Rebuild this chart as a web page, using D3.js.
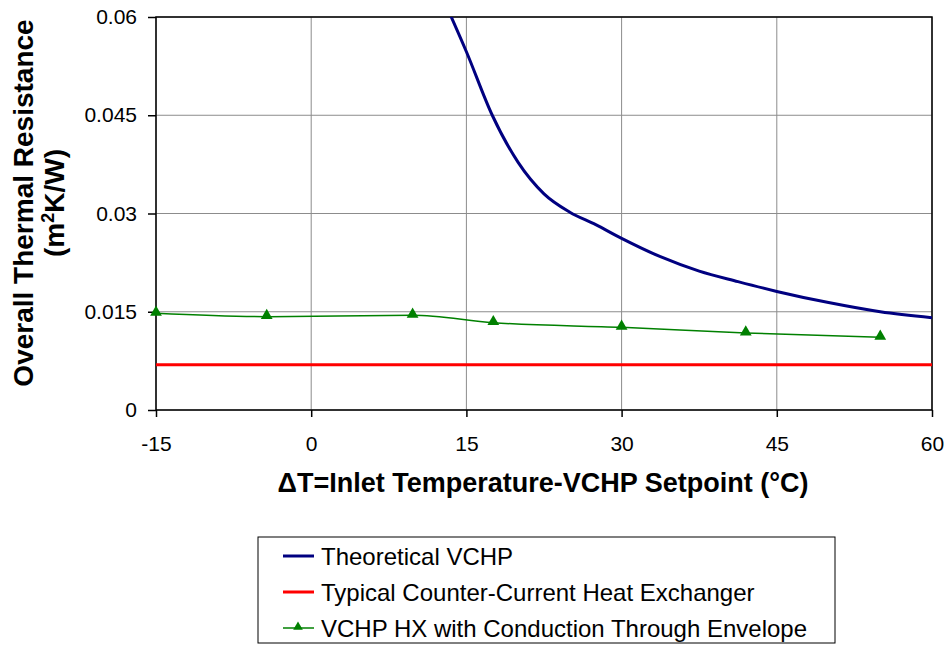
<!DOCTYPE html>
<html>
<head>
<meta charset="utf-8">
<script src="https://cdn.jsdelivr.net/npm/d3@7"></script>
<style>
  body { margin: 0; background: #fff; }
  text { font-family: "Liberation Sans", Arial, sans-serif; }
</style>
</head>
<body>
<script>
// Data
var xTicks = [-15, 0, 15, 30, 45, 60];
var xTickLabels = ['-15', '0', '15', '30', '45', '60'];
var yTicks = [0, 0.015, 0.03, 0.045, 0.06];
var yTickLabels = ['0', '0.015', '0.03', '0.045', '0.06'];

var theoryX = [13.4, 15, 17.5, 20, 22.5, 25, 27.5, 30, 33.75, 37.5, 41.25, 45, 50, 55, 60];
var theoryY = [0.0605, 0.0547, 0.0450, 0.0378, 0.0330, 0.0302, 0.0283, 0.0262, 0.0234, 0.0212, 0.0196, 0.0181, 0.0164, 0.0150, 0.0141];

var counterX = [-15, 60];
var counterY = [0.0069, 0.0069];

var envX = [-15, -4.3, 9.8, 17.6, 30, 42, 55];
var envY = [0.01476, 0.01425, 0.01446, 0.01333, 0.01262, 0.01175, 0.0111];

var seriesNames = ['Theoretical VCHP', 'Typical Counter-Current Heat Exchanger', 'VCHP HX with Conduction Through Envelope'];
var seriesColors = ['#000080', '#ff0000', '#008000'];

// Layout
var svgWidth = 948;
var svgHeight = 645;
var margin = { top: 17, right: 16, bottom: 235, left: 156 };
var chartWidth = svgWidth - margin.left - margin.right;
var chartHeight = svgHeight - margin.top - margin.bottom;

var svg = d3.select('body').append('svg')
  .attr('width', svgWidth)
  .attr('height', svgHeight);

var chart = svg.append('g')
  .attr('transform', `translate(${margin.left}, ${margin.top})`);

var xScale = d3.scaleLinear().domain([-15, 60]).range([0, chartWidth]);
var yScale = d3.scaleLinear().domain([0, 0.06]).range([chartHeight, 0]);

// Gridlines
chart.append('g')
  .selectAll('line')
  .data(xTicks)
  .enter()
  .append('line')
  .attr('x1', function(d) { return xScale(d); })
  .attr('x2', function(d) { return xScale(d); })
  .attr('y1', 0)
  .attr('y2', chartHeight)
  .attr('stroke', '#8c8c8c')
  .attr('stroke-width', 1);

chart.append('g')
  .selectAll('line')
  .data(yTicks)
  .enter()
  .append('line')
  .attr('x1', 0)
  .attr('x2', chartWidth)
  .attr('y1', function(d) { return yScale(d); })
  .attr('y2', function(d) { return yScale(d); })
  .attr('stroke', '#8c8c8c')
  .attr('stroke-width', 1);

// Axes
var bottomAxis = d3.axisBottom(xScale).tickValues(xTicks).tickSize(7).tickPadding(19)
  .tickFormat(function(d, i) { return xTickLabels[i]; });
var leftAxis = d3.axisLeft(yScale).tickValues(yTicks).tickSize(8).tickPadding(11)
  .tickFormat(function(d, i) { return yTickLabels[i]; });

var xAxisG = chart.append('g')
  .attr('transform', `translate(0, ${chartHeight})`)
  .call(bottomAxis);
var yAxisG = chart.append('g').call(leftAxis);

[xAxisG, yAxisG].forEach(function(g) {
  g.select('.domain').remove();
  g.selectAll('line').attr('stroke', '#000').attr('stroke-width', 1.5);
  g.selectAll('text').attr('font-size', 21).attr('fill', '#000')
    .attr('font-family', '"Liberation Sans", Arial, sans-serif');
});

// Frame
chart.append('rect')
  .attr('x', 0).attr('y', 0)
  .attr('width', chartWidth).attr('height', chartHeight)
  .attr('fill', 'none')
  .attr('stroke', '#000')
  .attr('stroke-width', 1.5);

// Clip
svg.append('defs').append('clipPath').attr('id', 'plotclip')
  .append('rect').attr('x', 0).attr('y', 0).attr('width', chartWidth).attr('height', chartHeight);

var plot = chart.append('g').attr('clip-path', 'url(#plotclip)');

function toPts(xs, ys) {
  return xs.map(function(x, i) { return [x, ys[i]]; });
}

var line = d3.line()
  .x(function(d) { return xScale(d[0]); })
  .y(function(d) { return yScale(d[1]); });

plot.append('path')
  .datum(toPts(counterX, counterY))
  .attr('d', line)
  .attr('fill', 'none')
  .attr('stroke', seriesColors[1])
  .attr('stroke-width', 3);

plot.append('path')
  .datum(toPts(envX, envY))
  .attr('d', line.curve(d3.curveMonotoneX))
  .attr('fill', 'none')
  .attr('stroke', seriesColors[2])
  .attr('stroke-width', 1.5);

plot.append('path')
  .datum(toPts(theoryX, theoryY))
  .attr('d', line.curve(d3.curveMonotoneX))
  .attr('fill', 'none')
  .attr('stroke', seriesColors[0])
  .attr('stroke-width', 3);

var tri = d3.symbol().type(d3.symbolTriangle).size(60);

chart.selectAll('path.marker')
  .data(toPts(envX, envY))
  .enter()
  .append('path')
  .attr('class', 'marker')
  .attr('d', tri)
  .attr('transform', function(d) { return `translate(${xScale(d[0])}, ${yScale(d[1]) - 1})`; })
  .attr('fill', seriesColors[2]);

// Axis titles
svg.append('text')
  .attr('x', 543)
  .attr('y', 492)
  .attr('text-anchor', 'middle')
  .attr('font-size', 27)
  .attr('font-weight', 'bold')
  .text('ΔT=Inlet Temperature-VCHP Setpoint (°C)');

var yTitle = svg.append('text')
  .attr('transform', 'translate(33, 203) rotate(-90)')
  .attr('text-anchor', 'middle')
  .attr('font-size', 28)
  .attr('font-weight', 'bold');
yTitle.append('tspan').attr('x', 0).attr('dy', 0).text('Overall Thermal Resistance');
yTitle.append('tspan').attr('x', 0).attr('dy', 31).text('(m');
yTitle.append('tspan').attr('dy', -10).attr('font-size', 18).text('2');
yTitle.append('tspan').attr('dy', 10).text('K/W)');

// Legend
var legend = svg.append('g').attr('transform', 'translate(258, 537)');
legend.append('rect')
  .attr('width', 577).attr('height', 106)
  .attr('fill', '#fff')
  .attr('stroke', '#000')
  .attr('stroke-width', 1);

var rows = legend.selectAll('g.row')
  .data(seriesNames)
  .enter()
  .append('g')
  .attr('transform', function(d, i) { return `translate(0, ${19 + i * 36})`; });

rows.append('line')
  .attr('x1', 25).attr('x2', 56)
  .attr('y1', 0).attr('y2', 0)
  .attr('stroke', function(d, i) { return seriesColors[i]; })
  .attr('stroke-width', function(d, i) { return i === 2 ? 1.5 : 3; });

rows.filter(function(d, i) { return i === 2; })
  .append('path')
  .attr('d', d3.symbol().type(d3.symbolTriangle).size(40))
  .attr('transform', 'translate(40, -1)')
  .attr('fill', seriesColors[2]);

rows.append('text')
  .attr('x', 63)
  .attr('y', 8.5)
  .attr('font-size', 24)
  .text(function(d) { return d; });
</script>
</body>
</html>
